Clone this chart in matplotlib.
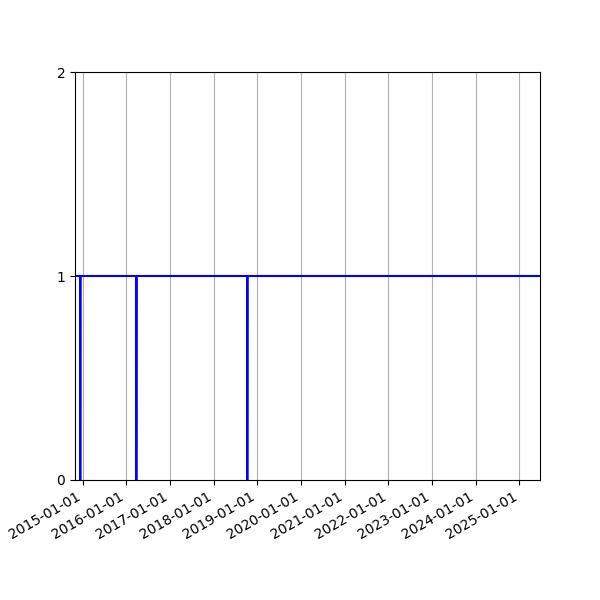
import numpy as np
import pandas as pd
import matplotlib
matplotlib.use("Agg")
import matplotlib.pyplot as plt
import matplotlib.dates as mdates

# 数据: 状态值, 在几个日期掉到0
dates = ["2014-01-01", "2014-12-12", "2014-12-12", "2014-12-13",
         "2016-03-25", "2016-03-25", "2016-03-26",
         "2018-10-09", "2018-10-09", "2018-10-10", "2026-01-01"]
values = [1, 1, 0, 1, 1, 0, 1, 1, 0, 1, 1]

x_start = "2014-10-29"
x_end = "2025-06-22"

t = pd.to_datetime(dates)

fig, ax = plt.subplots(figsize=(6, 6), dpi=100)
ax.plot(t, values, color="b", linewidth=1.5)

ax.set_xlim(pd.Timestamp(x_start), pd.Timestamp(x_end))
ax.set_ylim(0, 2)
ax.set_yticks([0, 1, 2])
ax.xaxis.set_major_locator(mdates.YearLocator())
ax.xaxis.set_major_formatter(mdates.DateFormatter("%Y-%m-%d"))
ax.grid(axis="x")
fig.autofmt_xdate()

fig.savefig("out.png", dpi=100)
